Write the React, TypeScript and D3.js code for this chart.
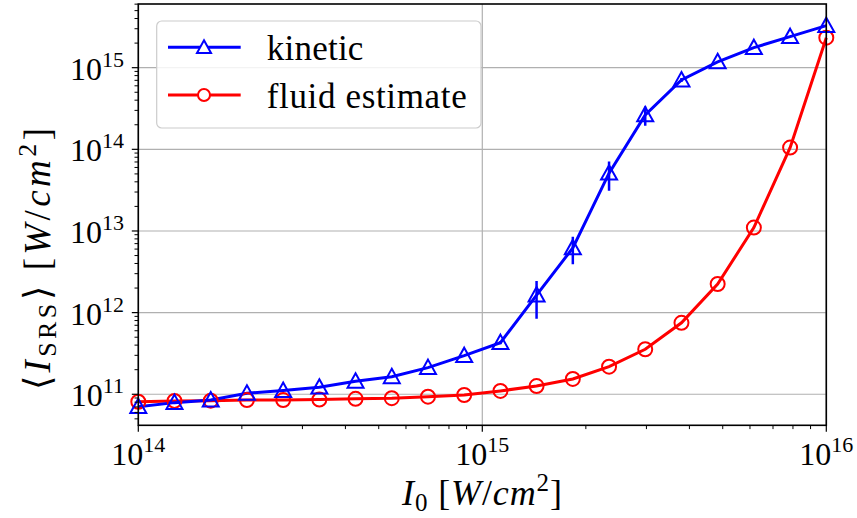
import React from "react";
import * as d3 from "d3";

const xValues = [
  1.0e14, 1.274e14, 1.624e14, 2.069e14, 2.637e14, 3.36e14, 4.281e14, 5.456e14, 6.952e14, 8.859e14,
  1.129e15, 1.438e15, 1.833e15, 2.336e15, 2.976e15, 3.793e15, 4.833e15, 6.158e15, 7.848e15, 1.0e16,
];
const kineticValues = [
  7.05e10, 7.9e10, 8.5e10, 1.03e11, 1.11e11, 1.22e11, 1.44e11, 1.64e11, 2.12e11, 2.97e11,
  4.29e11, 1.64e12, 6.2e12, 5.1e13, 2.64e14, 7.07e14, 1.18e15, 1.76e15, 2.4e15, 3.27e15,
];
const kineticErrors = [
  0, 0, 0, 0, 0, 0, 0, 0, 0, 0,
  0.2e11, 0.8e12, 2.3e12, 2.0e13, 0.7e14, 0.4e14, 0, 0, 0, 0,
];
const fluidValues = [
  8.1e10, 8.3e10, 8.35e10, 8.5e10, 8.5e10, 8.6e10, 8.8e10, 8.95e10, 9.35e10, 9.8e10,
  1.1e11, 1.26e11, 1.54e11, 2.18e11, 3.56e11, 7.5e11, 2.24e12, 1.1e13, 1.05e14, 2.33e15,
];
const xTickExps = [14, 15, 16];
const yTickExps = [11, 12, 13, 14, 15];
const legendLabels = ["kinetic", "fluid estimate"];

const W = 857;
const H = 518;
const L = 138.3, R = 826.3, T = 4, B = 425.3;
const FONT = "Liberation Serif";

export default function App() {
  const x = d3.scaleLog().domain([1e14, 1e16]).range([L, R]);
  const y = d3.scaleLog().domain([Math.pow(10, 10.62), Math.pow(10, 15.78)]).range([B, T]);

  const xMinor: number[] = [];
  for (let e = 14; e < 16; e++) for (let m = 2; m <= 9; m++) xMinor.push(m * Math.pow(10, e));
  const yMinor: number[] = [];
  for (let e = 10; e <= 15; e++)
    for (let m = 2; m <= 9; m++) {
      const v = m * Math.pow(10, e);
      if (y(v) >= T && y(v) <= B) yMinor.push(v);
    }

  const line = d3.line<number>().x((_, i) => x(xValues[i])).y((d) => y(d));
  const kPath = line(kineticValues) || "";
  const fPath = line(fluidValues) || "";

  const blue = "#0000ff";
  const red = "#ff0000";
  const tri = (cx: number, cy: number, s = 8) =>
    `M${cx},${cy - s}L${cx + s},${cy + s * 0.8}L${cx - s},${cy + s * 0.8}Z`;

  return (
    <svg width={W} height={H} style={{ position: "absolute", left: 0, top: 0, background: "#fff" }}>
      <rect x={0} y={0} width={W} height={H} fill="#fff" />
      <defs>
        <clipPath id="plotclip">
          <rect x={L - 10} y={T} width={R - L + 20} height={B - T} />
        </clipPath>
      </defs>
      {/* grid */}
      {xTickExps.map((e) => (
        <line key={"gx" + e} x1={x(Math.pow(10, e))} x2={x(Math.pow(10, e))} y1={T} y2={B} stroke="#b0b0b0" strokeWidth={1.2} />
      ))}
      {yTickExps.map((e) => (
        <line key={"gy" + e} x1={L} x2={R} y1={y(Math.pow(10, e))} y2={y(Math.pow(10, e))} stroke="#b0b0b0" strokeWidth={1.2} />
      ))}
      {/* data */}
      <g clipPath="url(#plotclip)">
        <path d={fPath} fill="none" stroke={red} strokeWidth={3} />
        <path d={kPath} fill="none" stroke={blue} strokeWidth={3} />
        {kineticValues.map((v, i) =>
          kineticErrors[i] > 0 ? (
            <line key={"e" + i} x1={x(xValues[i])} x2={x(xValues[i])} y1={y(v + kineticErrors[i])} y2={y(Math.max(v - kineticErrors[i], 1))} stroke={blue} strokeWidth={2.5} />
          ) : null
        )}
        {fluidValues.map((v, i) => (
          <circle key={"c" + i} cx={x(xValues[i])} cy={y(v)} r={7} fill="none" stroke={red} strokeWidth={2} />
        ))}
        {kineticValues.map((v, i) => (
          <path key={"t" + i} d={tri(x(xValues[i]), y(v))} fill="none" stroke={blue} strokeWidth={2} />
        ))}
      </g>
      {/* frame */}
      <rect x={L} y={T} width={R - L} height={B - T} fill="none" stroke="#000" strokeWidth={1.6} />
      {/* ticks */}
      {xTickExps.map((e) => (
        <line key={"tx" + e} x1={x(Math.pow(10, e))} x2={x(Math.pow(10, e))} y1={B} y2={B + 6.5} stroke="#000" strokeWidth={1.2} />
      ))}
      {xMinor.map((v, i) => (
        <line key={"mx" + i} x1={x(v)} x2={x(v)} y1={B} y2={B + 3.8} stroke="#000" strokeWidth={1} />
      ))}
      {yTickExps.map((e) => (
        <line key={"ty" + e} x1={L - 6.5} x2={L} y1={y(Math.pow(10, e))} y2={y(Math.pow(10, e))} stroke="#000" strokeWidth={1.2} />
      ))}
      {yMinor.map((v, i) => (
        <line key={"my" + i} x1={L - 3.8} x2={L} y1={y(v)} y2={y(v)} stroke="#000" strokeWidth={1} />
      ))}
      {/* tick labels */}
      {xTickExps.map((e) => (
        <text key={"lx" + e} x={x(Math.pow(10, e))} y={465} textAnchor="middle" fontFamily={FONT} fontSize={32} fill="#000">
          10<tspan fontSize={22} dy={-13}>{e}</tspan>
        </text>
      ))}
      {yTickExps.map((e) => (
        <text key={"ly" + e} x={124} y={y(Math.pow(10, e)) + 12} textAnchor="end" fontFamily={FONT} fontSize={32} fill="#000">
          10<tspan fontSize={22} dy={-13}>{e}</tspan>
        </text>
      ))}
      {/* axis labels */}
      <text x={482} y={505} textAnchor="middle" fontFamily={FONT} fontSize={36} fill="#000" textLength={160} lengthAdjust="spacing">
        <tspan fontStyle="italic">I</tspan>
        <tspan fontSize={25} dy={6}>0</tspan>
        <tspan dy={-6}>{"\u00a0["}</tspan>
        <tspan fontStyle="italic">W</tspan>
        <tspan>/</tspan>
        <tspan fontStyle="italic">cm</tspan>
        <tspan fontSize={25} dy={-14}>2</tspan>
        <tspan dy={14}>]</tspan>
      </text>
      <text transform="translate(50,259) rotate(-90)" textAnchor="middle" fontFamily={FONT} fontSize={37} fill="#000" textLength={262} lengthAdjust="spacing">
        <tspan>⟨</tspan>
        <tspan fontStyle="italic">I</tspan>
        <tspan fontSize={26} dy={6}>SRS</tspan>
        <tspan dy={-6}>{"⟩\u00a0["}</tspan>
        <tspan fontStyle="italic">W</tspan>
        <tspan>/</tspan>
        <tspan fontStyle="italic">cm</tspan>
        <tspan fontSize={26} dy={-14}>2</tspan>
        <tspan dy={14}>]</tspan>
      </text>
      {/* legend */}
      <rect x={156.7} y={21} width={324.3} height={107} rx={5} fill="#fff" fillOpacity={0.85} stroke="#cccccc" strokeWidth={1.2} />
      {legendLabels.map((lab, i) => {
        const cy = i === 0 ? 47.3 : 95;
        const col = i === 0 ? blue : red;
        return (
          <g key={"lg" + i}>
            <line x1={168} x2={240.7} y1={cy} y2={cy} stroke={col} strokeWidth={3} />
            {i === 0 ? (
              <path d={tri(204, cy, 7)} fill="#fff" stroke={col} strokeWidth={2} />
            ) : (
              <circle cx={204} cy={cy} r={6} fill="#fff" stroke={col} strokeWidth={2} />
            )}
            <text x={266.7} y={cy + 12.5} fontFamily={FONT} fontSize={35} fill="#000" textLength={i === 0 ? 96.7 : 200} lengthAdjust="spacing">
              {lab}
            </text>
          </g>
        );
      })}
    </svg>
  );
}
